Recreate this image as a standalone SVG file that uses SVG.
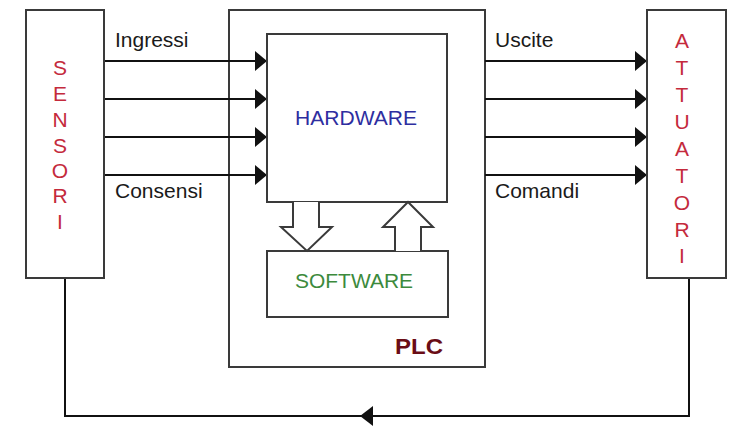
<svg xmlns="http://www.w3.org/2000/svg" width="729" height="426" viewBox="0 0 729 426">
  <defs>
    <style>
      .box { fill: #ffffff; stroke: #3a3a3a; stroke-width: 2; }
      .frame { fill: none; stroke: #3a3a3a; stroke-width: 2; }
      .wire { fill: none; stroke: #111111; stroke-width: 2; }
      .hollow { fill: #ffffff; stroke: #3a3a3a; stroke-width: 2; stroke-linejoin: miter; }
      .lbl { font-family: "Liberation Sans", Arial, sans-serif; font-size: 21px; fill: #1a1a1a; }
      .vert { font-family: "Liberation Sans", Arial, sans-serif; font-size: 21px; fill: #c42a3c; text-anchor: middle; }
    </style>
    <marker id="head" viewBox="0 0 12 20" refX="12" refY="10" markerWidth="12" markerHeight="20" markerUnits="userSpaceOnUse" orient="auto">
      <path d="M0,0 L12,10 L0,20 Z" fill="#111111"/>
    </marker>
  </defs>

  <rect width="729" height="426" fill="#ffffff"/>

  <g id="plc">
    <rect class="frame" x="229" y="10" width="256" height="357"/>
    <text x="395" y="354" font-family="Liberation Sans, Arial, sans-serif" font-size="22" font-weight="bold" fill="#6a0d16" textLength="48" lengthAdjust="spacingAndGlyphs">PLC</text>
  </g>

  <!-- feedback loop and signal lines -->
  <g id="connectors">
    <path class="wire" d="M65,278 V416 H689 V278"/>
    <path d="M360,416 L373,406 L373,426 Z" fill="#111111"/>
    <line class="wire" x1="104" y1="61" x2="267" y2="61" marker-end="url(#head)"/>
    <line class="wire" x1="104" y1="99" x2="267" y2="99" marker-end="url(#head)"/>
    <line class="wire" x1="104" y1="137" x2="267" y2="137" marker-end="url(#head)"/>
    <line class="wire" x1="104" y1="175" x2="267" y2="175" marker-end="url(#head)"/>
    <line class="wire" x1="485" y1="61" x2="647" y2="61" marker-end="url(#head)"/>
    <line class="wire" x1="485" y1="99" x2="647" y2="99" marker-end="url(#head)"/>
    <line class="wire" x1="485" y1="137" x2="647" y2="137" marker-end="url(#head)"/>
    <line class="wire" x1="485" y1="175" x2="647" y2="175" marker-end="url(#head)"/>
  </g>

  <g id="sensori">
    <rect class="box" x="26" y="10" width="78" height="268"/>
    <text class="vert" x="60" y="75">S</text>
    <text class="vert" x="60" y="101">E</text>
    <text class="vert" x="60" y="127">N</text>
    <text class="vert" x="60" y="153">S</text>
    <text class="vert" x="60" y="178">O</text>
    <text class="vert" x="60" y="203">R</text>
    <text class="vert" x="60" y="229">I</text>
  </g>

  <g id="attuatori">
    <rect class="box" x="647" y="10" width="79" height="268"/>
    <text class="vert" x="682" y="48">A</text>
    <text class="vert" x="682" y="75">T</text>
    <text class="vert" x="682" y="102">T</text>
    <text class="vert" x="682" y="129">U</text>
    <text class="vert" x="682" y="156">A</text>
    <text class="vert" x="682" y="183">T</text>
    <text class="vert" x="682" y="210">O</text>
    <text class="vert" x="682" y="237">R</text>
    <text class="vert" x="682" y="263">I</text>
  </g>

  <g id="hardware">
    <rect class="box" x="267" y="34" width="180" height="168"/>
    <text x="295" y="125" font-family="Liberation Sans, Arial, sans-serif" font-size="21" fill="#2e2ea0" textLength="122" lengthAdjust="spacingAndGlyphs">HARDWARE</text>
  </g>

  <g id="software">
    <rect class="box" x="267" y="251" width="181" height="66"/>
    <text x="295" y="288" font-family="Liberation Sans, Arial, sans-serif" font-size="21" fill="#3c8a3c" textLength="118" lengthAdjust="spacingAndGlyphs">SOFTWARE</text>
  </g>

  <!-- data exchange between hardware and software -->
  <g id="exchange">
    <path class="hollow" d="M293,202 V227 H281 L307,251 L332,227 H319 V202"/>
    <path class="hollow" d="M395,251 V227 H383 L408,202 L433,227 H421 V251"/>
  </g>

  <g id="labels">
    <text class="lbl" x="115" y="47">Ingressi</text>
    <text class="lbl" x="115" y="198">Consensi</text>
    <text class="lbl" x="495" y="47">Uscite</text>
    <text class="lbl" x="495" y="198">Comandi</text>
  </g>
</svg>
